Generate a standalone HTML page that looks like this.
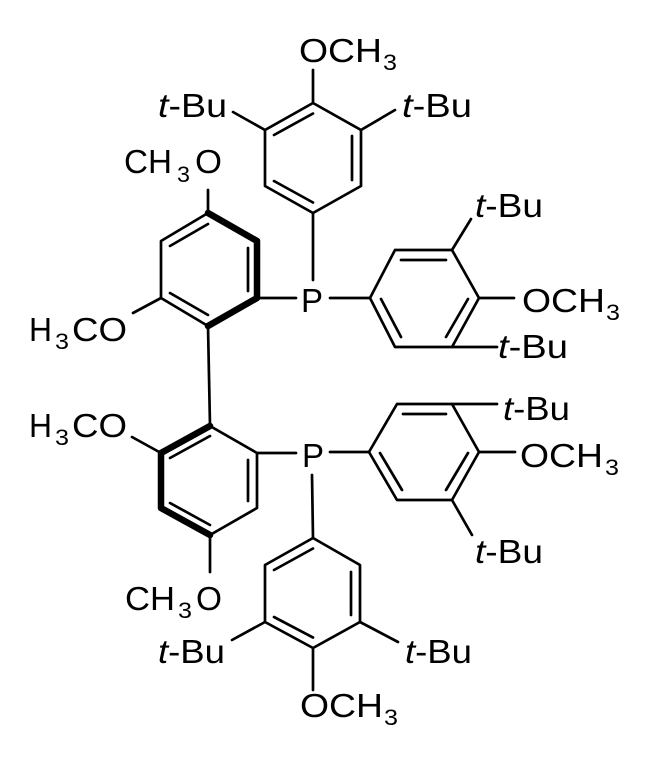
<!DOCTYPE html>
<html><head><meta charset="utf-8"><style>
html,body{margin:0;padding:0;background:#fff;}
svg{display:block;}
text{font-family:"Liberation Sans",Arial,sans-serif;fill:#000;}
.b{font-size:33px;}
.s{font-size:22px;}
</style></head><body>
<svg width="650" height="761" viewBox="0 0 650 761" xmlns="http://www.w3.org/2000/svg">
<g stroke="#000" stroke-width="2.7" fill="none" stroke-linecap="round" stroke-linejoin="round">
<polygon points="313,103 361,130 361,186 313,213 265,186 265,130"/>
<line x1="274" y1="135" x2="313" y2="113.5"/>
<line x1="352" y1="136" x2="352" y2="180"/>
<line x1="274" y1="181" x2="313" y2="202.5"/>
<line x1="313" y1="103" x2="313" y2="70"/>
<line x1="265" y1="130" x2="233" y2="112"/>
<line x1="361" y1="130" x2="395" y2="110"/>
<line x1="313" y1="213" x2="313" y2="280"/>
<polyline points="257,298 208,326"/>
<polyline points="208,326 161,298 161,241 208,213"/>
<line x1="170" y1="246" x2="208" y2="224"/>
<line x1="248" y1="248" x2="248" y2="291"/>
<line x1="170" y1="293" x2="208" y2="315"/>
<line x1="208" y1="213" x2="208" y2="190"/>
<line x1="161" y1="298" x2="133" y2="313"/>
<line x1="257" y1="298" x2="296" y2="298"/>
<line x1="208" y1="326" x2="210" y2="426"/>
<polyline points="210,426 257,453 257,508 210,535"/>
<line x1="170" y1="458" x2="210" y2="436"/>
<line x1="248" y1="460" x2="248" y2="501"/>
<line x1="170" y1="503" x2="210" y2="525"/>
<line x1="161" y1="453" x2="132" y2="437"/>
<line x1="210" y1="535" x2="210" y2="572"/>
<line x1="257" y1="453" x2="296" y2="453"/>
<polygon points="370,298 395,250 452,250 479,298 452,347 395,347"/>
<line x1="401" y1="260" x2="446" y2="260"/>
<line x1="468" y1="299" x2="446" y2="337"/>
<line x1="381" y1="299" x2="401" y2="337"/>
<line x1="330" y1="298" x2="370" y2="298"/>
<line x1="452" y1="250" x2="471" y2="219"/>
<line x1="479" y1="298" x2="514" y2="298"/>
<line x1="452" y1="347" x2="497" y2="347"/>
<polygon points="369,452 397,404 452,404 479,452 452,500 397,500"/>
<line x1="403" y1="414" x2="446" y2="414"/>
<line x1="468" y1="453" x2="446" y2="490"/>
<line x1="380" y1="453" x2="402" y2="490"/>
<line x1="330" y1="452" x2="369" y2="452"/>
<line x1="452" y1="404" x2="497" y2="404"/>
<line x1="479" y1="452" x2="515" y2="452"/>
<line x1="452" y1="500" x2="472" y2="535"/>
<line x1="312" y1="475" x2="313" y2="538"/>
<polygon points="313,538 360,565 360,622 313,648 265,622 265,565"/>
<line x1="274" y1="570" x2="313" y2="548.5"/>
<line x1="351" y1="572" x2="351" y2="615"/>
<line x1="274" y1="617" x2="313" y2="637.5"/>
<line x1="265" y1="622" x2="232" y2="640"/>
<line x1="360" y1="622" x2="398" y2="642"/>
<line x1="313" y1="648" x2="313" y2="690"/>
</g>
<g stroke="#000" stroke-width="6.5" fill="none" stroke-linecap="round" stroke-linejoin="round">
<polyline points="208,213 257,241 257,298 208,326"/>
<polyline points="210,426 161,453 161,508 210,535"/>
</g>
<text class="b" x="299" y="62" textLength="83" lengthAdjust="spacingAndGlyphs">OCH</text>
<text class="s" x="383" y="70" textLength="14" lengthAdjust="spacingAndGlyphs">3</text>
<text class="b" x="158" y="117" textLength="69" lengthAdjust="spacingAndGlyphs"><tspan font-style="italic">t</tspan>-Bu</text>
<text class="b" x="402" y="117" textLength="70" lengthAdjust="spacingAndGlyphs"><tspan font-style="italic">t</tspan>-Bu</text>
<text class="b" x="124" y="173" textLength="48" lengthAdjust="spacingAndGlyphs">CH</text>
<text class="s" x="177" y="182" textLength="13" lengthAdjust="spacingAndGlyphs">3</text>
<text class="b" x="195" y="173" textLength="27" lengthAdjust="spacingAndGlyphs">O</text>
<text class="b" x="475" y="217" textLength="68" lengthAdjust="spacingAndGlyphs"><tspan font-style="italic">t</tspan>-Bu</text>
<text class="b" x="301" y="312" textLength="22" lengthAdjust="spacingAndGlyphs">P</text>
<text class="b" x="522" y="312" textLength="83" lengthAdjust="spacingAndGlyphs">OCH</text>
<text class="s" x="606" y="320" textLength="14" lengthAdjust="spacingAndGlyphs">3</text>
<text class="b" x="29" y="341" textLength="23" lengthAdjust="spacingAndGlyphs">H</text>
<text class="s" x="55" y="349" textLength="14" lengthAdjust="spacingAndGlyphs">3</text>
<text class="b" x="72" y="341" textLength="55" lengthAdjust="spacingAndGlyphs">CO</text>
<text class="b" x="498" y="358" textLength="70" lengthAdjust="spacingAndGlyphs"><tspan font-style="italic">t</tspan>-Bu</text>
<text class="b" x="503" y="420" textLength="67" lengthAdjust="spacingAndGlyphs"><tspan font-style="italic">t</tspan>-Bu</text>
<text class="b" x="29" y="437" textLength="23" lengthAdjust="spacingAndGlyphs">H</text>
<text class="s" x="55" y="445" textLength="14" lengthAdjust="spacingAndGlyphs">3</text>
<text class="b" x="72" y="437" textLength="55" lengthAdjust="spacingAndGlyphs">CO</text>
<text class="b" x="302" y="467" textLength="22" lengthAdjust="spacingAndGlyphs">P</text>
<text class="b" x="520" y="467" textLength="83" lengthAdjust="spacingAndGlyphs">OCH</text>
<text class="s" x="605" y="475" textLength="14" lengthAdjust="spacingAndGlyphs">3</text>
<text class="b" x="475" y="563" textLength="68" lengthAdjust="spacingAndGlyphs"><tspan font-style="italic">t</tspan>-Bu</text>
<text class="b" x="125" y="610" textLength="50" lengthAdjust="spacingAndGlyphs">CH</text>
<text class="s" x="178" y="618" textLength="14" lengthAdjust="spacingAndGlyphs">3</text>
<text class="b" x="196" y="610" textLength="26" lengthAdjust="spacingAndGlyphs">O</text>
<text class="b" x="158" y="663" textLength="67" lengthAdjust="spacingAndGlyphs"><tspan font-style="italic">t</tspan>-Bu</text>
<text class="b" x="405" y="663" textLength="67" lengthAdjust="spacingAndGlyphs"><tspan font-style="italic">t</tspan>-Bu</text>
<text class="b" x="300" y="717" textLength="83" lengthAdjust="spacingAndGlyphs">OCH</text>
<text class="s" x="384" y="725" textLength="14" lengthAdjust="spacingAndGlyphs">3</text>
</svg>
</body></html>
